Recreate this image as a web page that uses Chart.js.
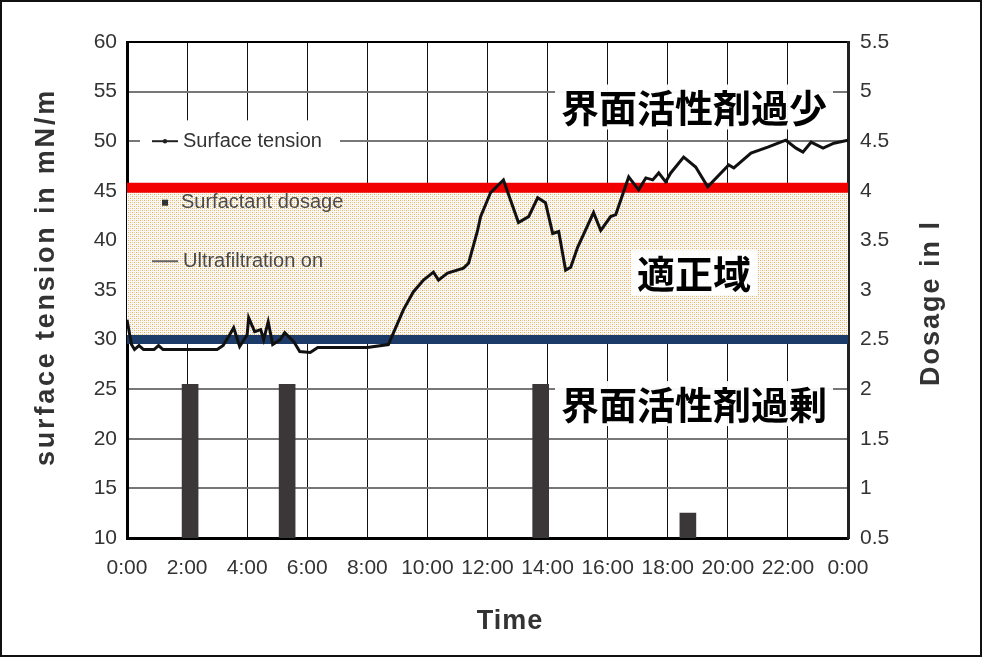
<!DOCTYPE html>
<html>
<head>
<meta charset="utf-8">
<script src="https://cdn.jsdelivr.net/npm/chart.js@4.4.0/dist/chart.umd.min.js"></script>
<style>
  html, body { margin: 0; padding: 0; background: #fff; }
  canvas { display: block; }
</style>
</head>
<body>
<canvas id="chart" width="982" height="657"></canvas>
<script>
// surface tension over one day (hours since 0:00, mN/m)
var hours = [0, 0.15, 0.25, 0.4, 0.55, 0.9, 1.05, 1.2, 2, 3, 3.2, 3.4, 3.55, 3.75, 4, 4.05, 4.25, 4.45, 4.55, 4.7,
  4.85, 5.1, 5.25, 5.55, 5.75, 6.1, 6.35, 7, 8, 8.7, 9.2, 9.53, 9.87, 10.2, 10.37, 10.67, 11.2, 11.37, 11.67, 11.77,
  12.1, 12.53, 13.03, 13.37, 13.67, 13.93, 14.17, 14.37, 14.6, 14.77, 15, 15.53, 15.77, 16.1, 16.27, 16.7, 17.03, 17.27, 17.5, 17.7,
  17.93, 18.1, 18.53, 18.93, 19.33, 20.03, 20.2, 20.77, 21.33, 21.93, 22.27, 22.5, 22.77, 23.17, 23.53, 24];
var tension = [32.0, 29.5, 29.0, 29.4, 29.0, 29.0, 29.4, 29.0, 29.0, 29.0, 29.4, 30.4, 31.2, 29.3, 30.5, 32.2, 30.8, 31.0, 30.0, 31.8,
  29.5, 30.0, 30.7, 29.8, 28.8, 28.7, 29.2, 29.2, 29.2, 29.5, 33.0, 34.8, 36.0, 36.8, 36.0, 36.7, 37.2, 37.7, 41.0, 42.4,
  44.8, 46.1, 41.8, 42.4, 44.3, 43.8, 40.7, 40.9, 37.0, 37.3, 39.3, 42.8, 41.0, 42.4, 42.6, 46.4, 45.1, 46.3, 46.1, 46.8,
  45.9, 46.8, 48.4, 47.4, 45.4, 47.6, 47.3, 48.8, 49.4, 50.1, 49.3, 48.9, 49.9, 49.3, 49.8, 50.1];

// surfactant dosage events (hour, litres)
var doseHours = [2.1, 5.33, 13.77, 18.67];
var doseLitres = [2.05, 2.05, 2.05, 0.75];

// limits of the good range
var upperLimit = 45.3;
var lowerLimit = 30;

var timeTicks = ['0:00', '2:00', '4:00', '6:00', '8:00', '10:00', '12:00', '14:00', '16:00', '18:00', '20:00', '22:00', '0:00'];
var zoneLabels = ['界面活性剤過少', '適正域', '界面活性剤過剰'];
var legendLabels = ['Surface tension', 'Surfactant dosage', 'Ultrafiltration on'];

var canvas = document.getElementById('chart');
var ctx = canvas.getContext('2d');

function dotPattern() {
  var c = document.createElement('canvas');
  c.width = 4; c.height = 4;
  var g = c.getContext('2d');
  g.fillStyle = '#faf8f5';
  g.fillRect(0, 0, 4, 4);
  g.fillStyle = '#f5ad3a';
  g.fillRect(0, 0, 1, 1);
  g.fillRect(2, 2, 1, 1);
  g.fillStyle = '#d9d5d0';
  g.fillRect(2, 0, 1, 1);
  g.fillRect(0, 2, 1, 1);
  return ctx.createPattern(c, 'repeat');
}

function pts(xs, ys) {
  return xs.map(function(x, i) { return { x: x, y: ys[i] }; });
}

var tickFont = { family: "'Liberation Sans Narrow', 'Liberation Sans', Arial, sans-serif", size: 21 };
var titleFont = "bold 27px 'Liberation Sans', Arial, sans-serif";

var decor = {
  id: 'decor',
  beforeDatasetsDraw: function(chart) {
    var c = chart.ctx, a = chart.chartArea, y = chart.scales.y;
    // white box behind the legend
    c.save();
    c.fillStyle = '#fff';
    var top = y.getPixelForValue(52.1), bottom = y.getPixelForValue(34.7);
    c.fillRect(a.left + 13, top, 200, bottom - top);
    c.restore();
  },
  afterDatasetsDraw: function(chart) {
    var c = chart.ctx, a = chart.chartArea, y = chart.scales.y;
    c.save();
    // legend
    var lx = a.left + 25;
    var rows = [50, 43.8, 37.9].map(function(v) { return y.getPixelForValue(v); });
    c.font = "20px 'Liberation Sans', Arial, sans-serif";
    c.textBaseline = 'middle';
    c.textAlign = 'left';
    // surface tension
    c.strokeStyle = '#222'; c.lineWidth = 2;
    c.beginPath(); c.moveTo(lx, rows[0]); c.lineTo(lx + 26, rows[0]); c.stroke();
    c.fillStyle = '#222';
    c.beginPath(); c.arc(lx + 13, rows[0], 2.2, 0, Math.PI * 2); c.fill();
    c.fillStyle = '#333';
    c.fillText(legendLabels[0], lx + 31, rows[0]);
    // dosage
    c.fillStyle = '#333';
    c.fillRect(lx + 10, rows[1] - 3, 6, 6);
    c.fillStyle = '#4a4a4a';
    c.fillText(legendLabels[1], lx + 29, rows[1]);
    // ultrafiltration
    c.strokeStyle = '#666';
    c.beginPath(); c.moveTo(lx, rows[2]); c.lineTo(lx + 26, rows[2]); c.stroke();
    c.fillStyle = '#4a4a4a';
    c.fillText(legendLabels[2], lx + 31, rows[2]);

    // zone labels with white boxes
    c.font = "bold 38px 'Noto Sans CJK JP', sans-serif";
    c.textAlign = 'center';
    var cx = a.left + 567;
    var zy = [53.5, 36.8, 23.6];
    zoneLabels.forEach(function(t, i) {
      var py = y.getPixelForValue(zy[i]);
      var w = c.measureText(t).width + 12;
      c.fillStyle = 'rgba(255,255,255,0.95)';
      c.fillRect(cx - w / 2, py - 22, w, 45);
      c.fillStyle = '#000';
      c.fillText(t, cx, py + 1);
    });
    c.restore();
  },
  afterDraw: function(chart) {
    var c = chart.ctx;
    c.save();
    c.fillStyle = '#333';
    c.font = titleFont;
    c.textAlign = 'center';
    c.textBaseline = 'middle';
    c.save();
    c.letterSpacing = '2.8px';
    c.translate(47, 277);
    c.rotate(-Math.PI / 2);
    c.fillText('surface tension in mN/m', 0, 0);
    c.restore();
    c.save();
    c.letterSpacing = '2px';
    c.translate(932, 303);
    c.rotate(-Math.PI / 2);
    c.fillText('Dosage in l', 0, 0);
    c.restore();
    c.letterSpacing = '1px';
    c.fillText('Time', 510, 622);
    // outer frame
    c.letterSpacing = '0px';
    c.strokeStyle = '#111';
    c.lineWidth = 2;
    c.strokeRect(1, 1, chart.width - 2, chart.height - 2);
    c.restore();
  }
};

var chart = new Chart(ctx, {
  type: 'line',
  data: {
    datasets: [
      {
        label: legendLabels[0],
        data: pts(hours, tension),
        borderColor: '#111',
        borderWidth: 3,
        pointRadius: 0,
        tension: 0,
        yAxisID: 'y',
        order: 1
      },
      {
        type: 'bar',
        label: legendLabels[1],
        data: pts(doseHours, doseLitres),
        backgroundColor: '#3b3738',
        barThickness: 16,
        yAxisID: 'y2',
        order: 5
      },
      {
        label: legendLabels[2],
        data: [],
        borderColor: '#666',
        yAxisID: 'y'
      },
      {
        label: 'upper limit',
        data: [{ x: 0, y: upperLimit }, { x: 24, y: upperLimit }],
        borderColor: '#f20000',
        borderWidth: 10,
        pointRadius: 0,
        fill: { value: lowerLimit },
        backgroundColor: dotPattern(),
        yAxisID: 'y',
        order: 4
      },
      {
        label: 'lower limit',
        data: [{ x: 0, y: lowerLimit }, { x: 24, y: lowerLimit }],
        borderColor: '#1d3b68',
        borderWidth: 9,
        pointRadius: 0,
        yAxisID: 'y',
        order: 3
      }
    ]
  },
  options: {
    responsive: false,
    animation: false,
    devicePixelRatio: 1,
    layout: { padding: { top: 42, left: 0, right: 0, bottom: 0 } },
    plugins: { legend: { display: false }, tooltip: { enabled: false } },
    scales: {
      x: {
        type: 'linear', min: 0, max: 24, offset: false,
        ticks: {
          stepSize: 2, autoSkip: false, maxRotation: 0, padding: 18, color: '#333', font: tickFont,
          callback: function(v, i) { return timeTicks[i]; }
        },
        grid: { color: '#111', lineWidth: 1, drawTicks: false, offset: false },
        border: { color: '#000', width: 3 },
        afterFit: function(s) { s.height = 119; }
      },
      y: {
        position: 'left', min: 10, max: 60,
        ticks: { stepSize: 5, padding: 10, color: '#333', font: tickFont },
        grid: {
          drawTicks: false, lineWidth: 2,
          color: function(c) { return c.tick && c.tick.value === 60 ? '#000' : '#777'; }
        },
        border: { color: '#000', width: 3 },
        afterFit: function(s) { s.width = 127; }
      },
      y2: {
        position: 'right', min: 0.5, max: 5.5,
        ticks: {
          stepSize: 0.5, padding: 12, color: '#333', font: tickFont,
          callback: function(v) { return String(Math.round(v * 10) / 10); }
        },
        grid: { drawOnChartArea: false, drawTicks: false },
        border: { color: '#222', width: 3 },
        afterFit: function(s) { s.width = 134; }
      }
    }
  },
  plugins: [decor]
});
</script>
</body>
</html>
